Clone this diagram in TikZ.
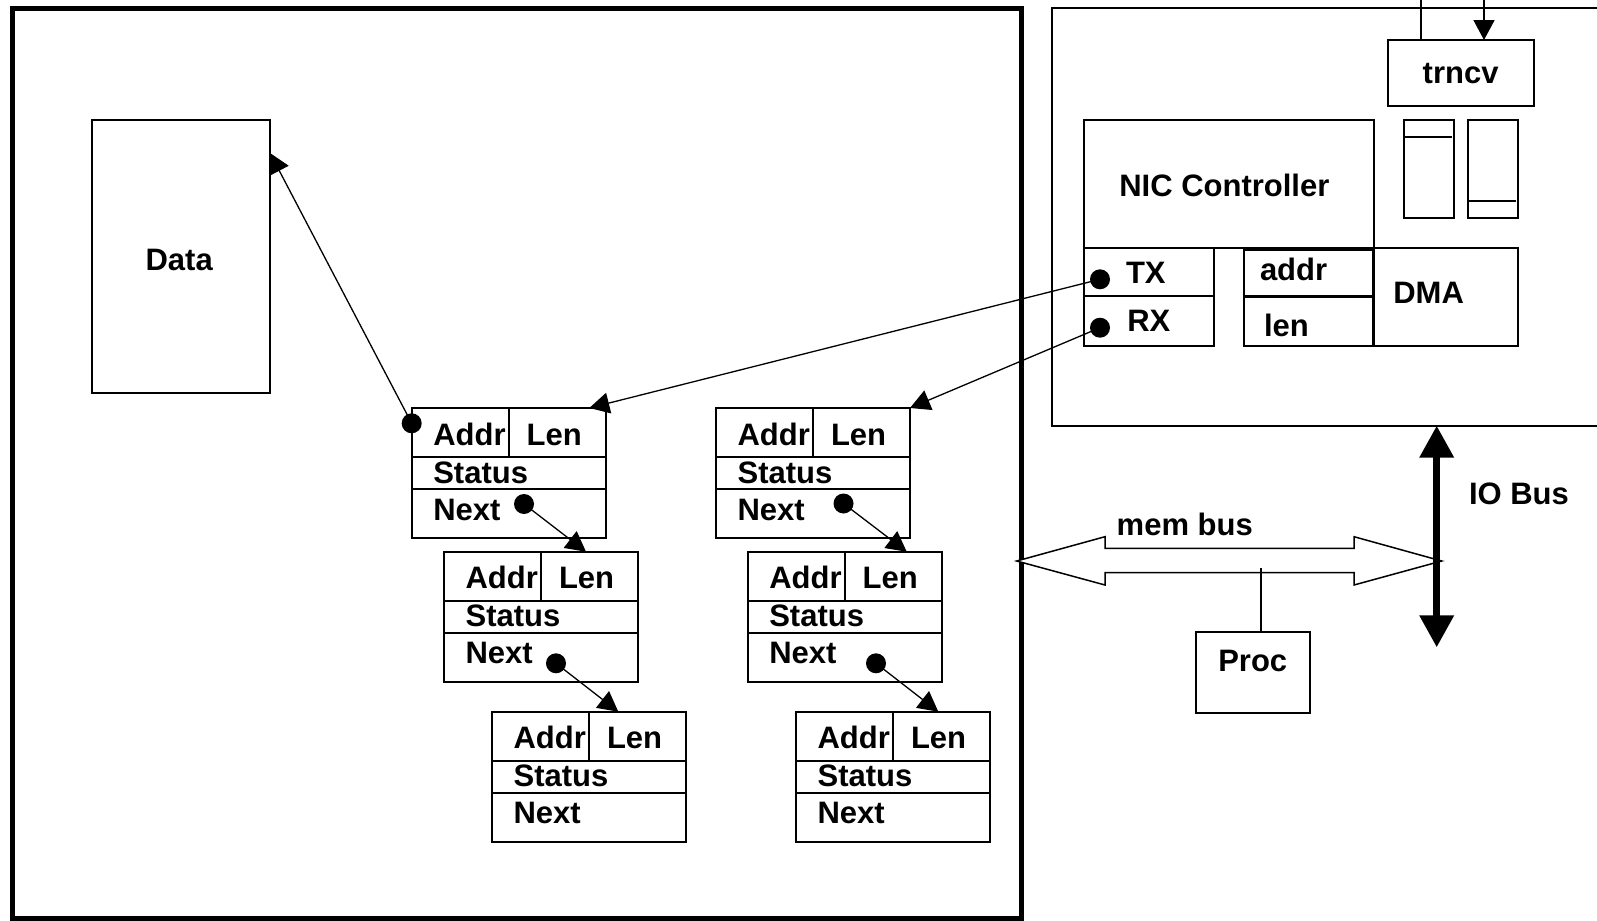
\documentclass[tikz,border=0pt]{standalone}
\usepackage{fontspec}
\setmainfont{Liberation Sans}
\usetikzlibrary{arrows.meta}

% plain rectangle node from its top-left and bottom-right corners (in px units)
\newcommand\pbox[5]{\node[rbox,minimum width={(#4-#2)/2},minimum height={(#5-#3)/2}] (#1) at (#2,#3) {};}

% one buffer descriptor: Addr | Len / Status / Next
\newcommand\descbox[3]{%
  \node[rbox,minimum width=97pt,minimum height=65pt] (#1) at (#2,#3) {};
  \begin{scope}[shift={(#1.north west)}]
    \draw[ln] (97,0) -- (97,49);
    \draw[ln] (0,49) -- (194,49);
    \draw[ln] (0,81) -- (194,81);
    \node[lbl] (#1-addr) at (21.6,37) {Addr};
    \node[lbl] (#1-len) at (115,37) {Len};
    \node[lbl] (#1-status) at (21.6,75) {Status};
    \node[lbl] (#1-next) at (21.6,112) {Next};
  \end{scope}}

\begin{document}
\begin{tikzpicture}[x=0.5pt,y=-0.5pt,
  every node/.style={inner sep=0pt,outer sep=0pt},
  ln/.style={line width=0.85pt},
  rbox/.style={draw,ln,anchor=north west},
  lbl/.style={anchor=base west,font=\fontsize{15.5}{18}\selectfont\bfseries},
  conn/.style={line width=0.65pt,-{Triangle[length=10pt,width=10.5pt]}},
  bus/.style={line width=3.5pt,{Triangle[length=16pt,width=16.5pt]}-{Triangle[length=16pt,width=16.5pt]}}]

\useasboundingbox (0,0) rectangle (1597,921);

% host memory
\node[draw,line width=2.5pt,anchor=north west,minimum width=504.9pt,minimum height=455pt] (memory) at (12,8.5) {};

% data buffer
\pbox{data}{91.7}{120.2}{270}{393.3}
\node[lbl] (datalbl) at (145.6,270) {Data};

% descriptor rings
\descbox{b1}{411.7}{408}
\descbox{b2}{444}{551.7}
\descbox{b3}{492}{711.7}
\descbox{b4}{716}{408}
\descbox{b5}{747.7}{551.7}
\descbox{b6}{796}{711.7}

% NIC board (open on the right)
\draw[ln] (1597,8) -- (1052,8) -- (1052,425.7) -- (1597,425.7);

\pbox{trncv}{1387.7}{40}{1534}{106}
\node[lbl] (trncvlbl) at (1422.7,83.3) {trncv};
\coordinate (wireA) at (1421,0);
\coordinate (wireB) at (1484,0);
\draw[ln] (wireA) -- (wireA |- trncv.north);
\draw[ln,-{Triangle[length=10pt,width=10.5pt]}] (wireB) -- (wireB |- trncv.north);

\pbox{nic}{1084}{120}{1373.7}{248.3}
\node[lbl] (niclbl) at (1119.3,196) {NIC Controller};

\pbox{tx}{1084}{248.3}{1213.7}{296}
\pbox{rx}{1084}{296}{1213.7}{345.7}
\node[lbl] (txlbl) at (1126,283.3) {TX};
\node[lbl] (rxlbl) at (1127.3,331.7) {RX};

\pbox{addr}{1243.7}{248.3}{1373}{296.7}
\pbox{len}{1243.7}{296.7}{1373}{345.7}
\draw[line width=1.5pt] (1243.7,249) -- (1373,249) -- (1373,345.7);
\draw[line width=1.5pt] (1243.7,296.7) -- (1373,296.7);
\node[lbl] (addrlbl) at (1260,280) {addr};
\node[lbl] (lenlbl) at (1264,336) {len};

\pbox{dma}{1374}{248.3}{1517.7}{345.7}
\node[lbl] (dmalbl) at (1393.3,303.3) {DMA};

% FIFOs
\pbox{fifoA}{1403.7}{120}{1454}{218}
\draw[ln] (1403.7,136.7) -- (1452,136.7);
\pbox{fifoB}{1468}{120}{1517.7}{218}
\draw[ln] (1468,201) -- (1516,201);

% pointers
\coordinate (txdot) at (1100,279.3);
\coordinate (rxdot) at (1100,327.7);
\coordinate (txtip) at (589.3,408);
\coordinate (rxtip) at (910,408);
\coordinate (adot) at (411.7,423.3);
\coordinate (dtip) at (270,153);
\coordinate (n1) at (524,504);
\coordinate (n2) at (556,663.3);
\coordinate (n4) at (843.5,503.5);
\coordinate (n5) at (876,663.3);
\coordinate (t12) at (586,551.7);
\coordinate (t23) at (618.3,711.7);
\coordinate (t45) at (906.7,551.7);
\coordinate (t56) at (938.3,711.7);

\draw[conn] (txdot) -- (txtip);
\draw[conn] (rxdot) -- (rxtip);
\draw[conn] (adot) -- (dtip);
\draw[conn] (n1) -- (t12);
\draw[conn] (n2) -- (t23);
\draw[conn] (n4) -- (t45);
\draw[conn] (n5) -- (t56);
\foreach \d in {txdot,rxdot,adot,n1,n2,n4,n5}
  \fill (\d) circle[radius=5pt];

% memory bus (hollow double arrow)
\draw[line width=0.75pt,fill=white]
  (1016.7,561) -- (1105,536.7) -- (1105,548.3) -- (1354,548.3) -- (1354,536.7)
  -- (1441.7,561) -- (1354,585) -- (1354,572.7) -- (1105,572.7) -- (1105,585) -- cycle;
\node[lbl] (memlbl) at (1116.7,535) {mem bus};

% processor
\pbox{proc}{1195.7}{631.7}{1310}{713}
\node[lbl] (proclbl) at (1218.3,671.7) {Proc};
\coordinate (tap) at (1261,568.3);
\draw[ln] (tap) -- (tap |- proc.north);

% IO bus
\coordinate (iotop) at (1436.7,425.7);
\coordinate (iobot) at (1436.7,647.3);
\draw[bus] (iotop) -- (iobot);
\node[lbl] (iolbl) at (1469,504) {IO Bus};

\end{tikzpicture}
\end{document}
